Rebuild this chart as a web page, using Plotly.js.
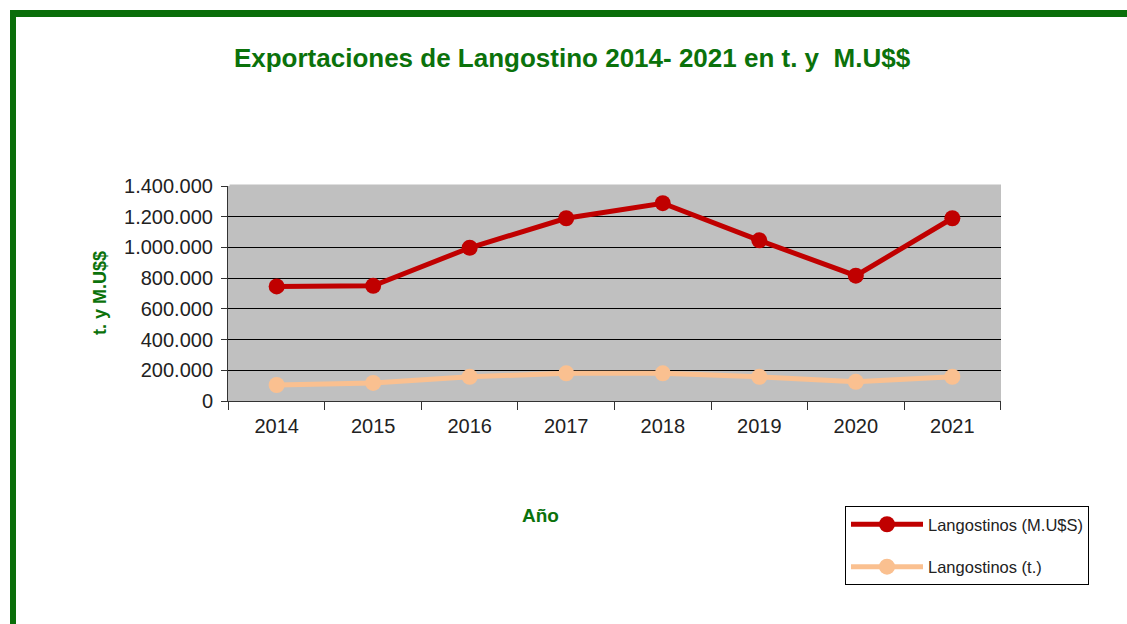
<!DOCTYPE html>
<html>
<head>
<meta charset="utf-8">
<script src="https://cdn.plot.ly/plotly-3.0.1.min.js"></script>
<style>
  html, body { margin:0; padding:0; background:#fff; }
  #wrap { position:relative; width:1127px; height:624px; overflow:hidden; }
  #chart { position:absolute; left:0; top:0; width:1127px; height:624px; }
  #frame { position:absolute; left:10px; top:10px; width:1300px; height:800px;
           border-top:7px solid #0a6e0a; border-left:6px solid #0a6e0a; pointer-events:none; }
</style>
</head>
<body>
<div id="wrap">
  <div id="chart"></div>
  <div id="frame"></div>
</div>
<script>
const years = ['2014','2015','2016','2017','2018','2019','2020','2021'];
const musd = [746000, 750000, 998000, 1190000, 1288000, 1046000, 816000, 1190000];
const tons = [104000, 118000, 158000, 180000, 180000, 158000, 125000, 158000];
const yTicks = [0, 200000, 400000, 600000, 800000, 1000000, 1200000, 1400000];

const font = "'Liberation Sans', Arial, sans-serif";
const green = '#0b720b';

const traces = [
  { x: years, y: musd, name: 'Langostinos (M.U$S)', type: 'scatter', mode: 'lines+markers',
    line: { color: '#c00000', width: 5 }, marker: { color: '#c00000', size: 16 },
    legendgroup: 'a' },
  { x: years, y: tons, name: 'Langostinos (t.)', type: 'scatter', mode: 'lines+markers',
    line: { color: '#fac090', width: 5 }, marker: { color: '#fac090', size: 16 },
    legendgroup: 'b' }
];

const L = 228, R = 1001, T = 186, B = 401;
const px = v => (v - L) / (R - L);
const py = v => (B - v) / (B - T);

const layout = {
  width: 1127, height: 624,
  paper_bgcolor: '#ffffff', plot_bgcolor: '#c0c0c0',
  separators: ',.',
  margin: { l: L, r: 1127 - R, t: T, b: 624 - B },
  font: { family: font, color: '#222' },
  title: { text: 'Exportaciones de Langostino 2014- 2021 en t. y  M.U$$',
           font: { family: font, size: 26, color: green, weight: 'bold' },
           x: 572/1127, xanchor: 'center', y: 1 - 58/624, yanchor: 'middle', yref: 'container' },
  xaxis: { type: 'category', tickson: 'boundaries', ticks: 'outside', ticklen: 8,
           tickcolor: '#333', showline: true, linecolor: '#333', linewidth: 1,
           showgrid: false, tickfont: { size: 20, color: '#222' }, ticklabelstandoff: 7,
           automargin: false },
  yaxis: { range: [0, 1400000], tickvals: yTicks, tickformat: ',d', ticks: 'outside', ticklen: 6,
           tickcolor: '#333', showline: true, linecolor: '#333', linewidth: 1,
           showgrid: true, gridcolor: '#000', gridwidth: 1, zeroline: false,
           tickfont: { size: 20, color: '#222' }, ticklabelstandoff: 4,
           automargin: false },
  annotations: [
    { text: 'Año', xref: 'paper', yref: 'paper', x: px(540), y: py(515),
      xanchor: 'center', yanchor: 'middle', showarrow: false,
      font: { size: 19, color: green, weight: 'bold' } },
    { text: 't. y M.U$$', xref: 'paper', yref: 'paper', x: px(100), y: py(293),
      xanchor: 'center', yanchor: 'middle', showarrow: false, textangle: -90,
      font: { size: 18, color: green, weight: 'bold' } }
  ],
  shapes: [
    { type: 'line', xref: 'paper', yref: 'paper', x0: 0.002, x1: 1, y0: 1, y1: 1,
      line: { color: '#c0c0c0', width: 3 }, layer: 'above' }
  ],
  legend: { x: px(845), y: py(506), xanchor: 'left', yanchor: 'top',
            bordercolor: '#000', borderwidth: 1, bgcolor: '#fff',
            font: { size: 16.5, color: '#222' }, traceorder: 'grouped', tracegroupgap: 18,
            itemwidth: 72 },
  showlegend: true
};

Plotly.newPlot('chart', traces, layout, { displayModeBar: false, staticPlot: true });
</script>
</body>
</html>
